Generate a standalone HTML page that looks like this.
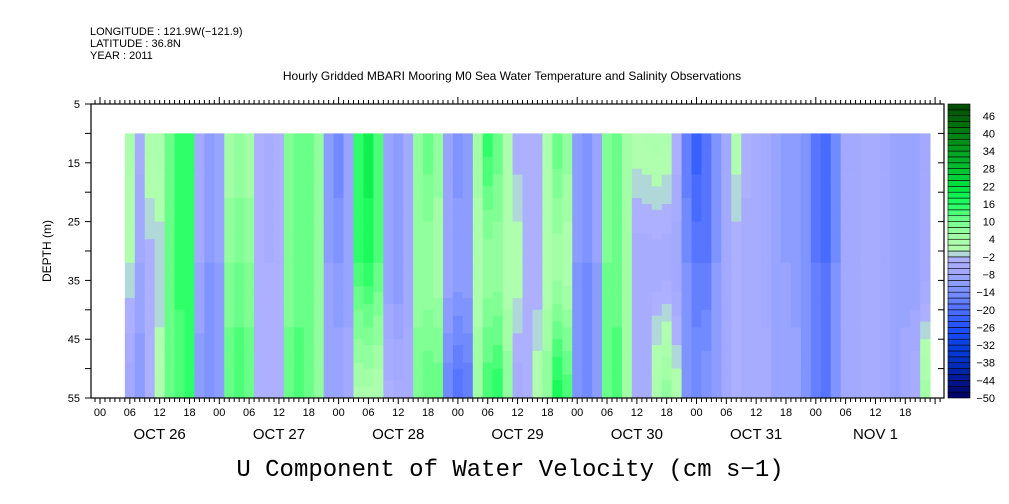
<!DOCTYPE html>
<html><head><meta charset="utf-8"><style>
html,body{margin:0;padding:0;background:#fff;}
svg{display:block;font-family:"Liberation Sans","DejaVu Sans",sans-serif;}
</style></head><body>
<svg id="chart" width="1009" height="504" viewBox="0 0 1009 504">
<g font-size="11" fill="#000">
<text x="90" y="35">LONGITUDE : 121.9W(−121.9)</text>
<text x="90" y="47">LATITUDE : 36.8N</text>
<text x="90" y="59">YEAR : 2011</text>
</g>
<text x="512" y="80" font-size="12" text-anchor="middle">Hourly Gridded MBARI Mooring M0 Sea Water Temperature and Salinity Observations</text>
<g id="cells"></g>
<g id="axes"></g>
<g id="cbar"></g>
<text x="0" y="0" font-size="12" text-anchor="middle" transform="translate(51,251) rotate(-90)">DEPTH (m)</text>
<text x="510" y="476" font-size="24" text-anchor="middle" font-family="Liberation Mono, monospace">U Component of Water Velocity (cm s−1)</text>
</svg>
<script>
// hours since OCT 26 00:00
const hours=[6,8,10,12,14,16,18,20,22,24,26,28,30,32,34,36,38,40,42,44,46,48,50,52,54,56,58,60,62,64,66,68,70,72,74,76,78,80,82,84,86,88,90,92,94,96,98,100,102,104,106,108,110,112,114,116,118,120,122,124,126,128,130,132,134,136,138,140,142,144,146,148,150,152,154,156,158,160,162,164,166];
const depths=[10,32,55];
const topVals=[3,-5,3,4,10,15,16,-6,-10,-8,4,6,4,-4,-6,-4,10,12,10,6,-12,-16,-10,16,20,14,-8,-10,-6,8,12,8,-10,-14,-12,6,16,12,4,-4,-4,-4,4,12,8,-10,-12,-8,8,10,6,2,3,4,3,-2,-18,-24,-20,-14,-6,2,-2,-4,-8,-10,-12,-10,-14,-20,-22,-16,-8,-6,-6,-4,-6,-10,-10,-8,-8];
const midVals=[0,-8,-3,-2,10,15,14,-8,-12,-10,8,10,8,-4,-4,-3,8,10,10,6,-10,-12,-10,14,16,12,-10,-12,-8,6,6,4,-8,-10,-10,2,6,6,2,2,-2,-4,2,4,2,-12,-14,-10,10,10,4,-6,-6,-6,-6,-8,-14,-18,-18,-12,-8,-4,-6,-6,-8,-10,-10,-12,-14,-18,-20,-14,-8,-8,-6,-6,-8,-10,-10,-10,-8];
const botVals=[-8,-12,-4,2,10,12,14,-12,-14,-12,12,14,12,-2,-4,-4,12,14,12,8,-8,-8,-6,3,3,2,-3,-5,-4,10,12,12,-16,-20,-18,6,14,16,8,-6,-4,2,8,18,14,-14,-16,-12,12,14,6,-6,-4,4,8,2,-12,-14,-12,-10,-6,-2,-6,-4,-4,-8,-10,-8,-12,-16,-18,-14,-8,-6,-4,-4,-6,-8,-6,-4,6];
const cbarLabels=[46,40,34,28,22,16,10,4,-2,-8,-14,-20,-26,-32,-38,-44,-50];
const yLabels=[5,15,25,35,45,55];
const dayLabels=["OCT 26","OCT 27","OCT 28","OCT 29","OCT 30","OCT 31","NOV  1"];

const NS="http://www.w3.org/2000/svg";
const X0=100, PXH=119.3/24, Y0=104, PXM=294/50;
const xS=h=>X0+h*PXH, yS=d=>Y0+(d-5)*PXM;
function el(t,a,p){const e=document.createElementNS(NS,t);for(const k in a)e.setAttribute(k,a[k]);p.appendChild(e);return e;}
const stops=[[-50,[0,0,96]],[-44,[0,24,144]],[-38,[0,48,192]],[-32,[8,64,224]],[-26,[32,80,255]],[-20,[80,112,255]],[-14,[120,144,255]],[-8,[160,168,255]],[-2,[176,176,255]],[0,[176,255,176]],[4,[170,255,170]],[10,[120,255,144]],[16,[32,255,96]],[22,[0,224,64]],[28,[0,192,48]],[34,[0,160,32]],[40,[0,128,16]],[46,[0,96,8]],[50,[0,72,0]]];
function color(v){
  let q=Math.floor(v/2)*2+1; q=Math.max(-49,Math.min(49,q));
  for(let i=0;i<stops.length-1;i++){const a=stops[i],b=stops[i+1];if(q>=a[0]&&q<=b[0]){const t=(q-a[0])/(b[0]-a[0]);const c=a[1].map((x,j)=>Math.round(x+(b[1][j]-x)*t));return `rgb(${c[0]},${c[1]},${c[2]})`;}}
  return "#fff";
}
const cells=document.getElementById('cells');
for(let i=0;i<hours.length;i++){
  const x1=xS(hours[i]-1), x2=xS(Math.min(hours[i]+1,167.5));
  for(let d=10;d<55;d+=1){
    const dm=d+0.5;
    let v;
    if(dm<=depths[1]){const t=(dm-depths[0])/(depths[1]-depths[0]);v=topVals[i]+(midVals[i]-topVals[i])*t;}
    else{const t=(dm-depths[1])/(depths[2]-depths[1]);v=midVals[i]+(botVals[i]-midVals[i])*t;}
    const r=el('rect',{x:x1.toFixed(2),y:yS(d).toFixed(2),width:(x2-x1+0.4).toFixed(2),height:(PXM+0.4).toFixed(2),fill:color(v)},cells);
    
    
  }
}
const ax=document.getElementById('axes');
const frame=el('rect',{x:91,y:104,width:853,height:294,fill:'none',stroke:'#000','stroke-width':1.2},ax);


for(let d=5;d<=55;d+=5){
  const y=yS(d);
  el('line',{x1:85,x2:91,y1:y,y2:y,stroke:'#000'},ax);
  el('line',{x1:944,x2:938,y1:y,y2:y,stroke:'#000'},ax);
}
yLabels.forEach(v=>{const t=el('text',{x:80,y:yS(v)+4,'font-size':11,'text-anchor':'end'},ax);t.textContent=v;

});
for(let h=-1;h<=169;h++){
  const x=xS(h); if(x<91||x>944) continue;
  const big=h%6===0, day=h%24===0;
  el('line',{x1:x,x2:x,y1:398,y2:398+(big?6:4),stroke:'#000'},ax);
  el('line',{x1:x,x2:x,y1:104,y2:104-(day?7:4),stroke:'#000'},ax);
  if(big && h<168){const t=el('text',{x:x,y:416,'font-size':11,'text-anchor':'middle'},ax);t.textContent=String(h%24).padStart(2,'0');
  
  }
}
dayLabels.forEach((s,i)=>{const t=el('text',{x:xS(i*24+12),y:439,'font-size':15,'text-anchor':'middle','xml:space':'preserve'},ax);t.textContent=s;

});
const cb=document.getElementById('cbar');
const CY=v=>398-(v+50)*2.94;
for(let v=-50;v<50;v+=2){
  const r=el('rect',{x:948,y:CY(v+2),width:22,height:5.88,fill:color(v+1),stroke:'#000','stroke-width':0.6},cb);
  
  
}
cbarLabels.forEach(v=>{const y=CY(v);
  const t=el('text',{x:995,y:y+4,'font-size':11,'text-anchor':'end'},cb);t.textContent=v<0?'−'+String(-v):String(v);
  
  });
</script>
</body></html>
